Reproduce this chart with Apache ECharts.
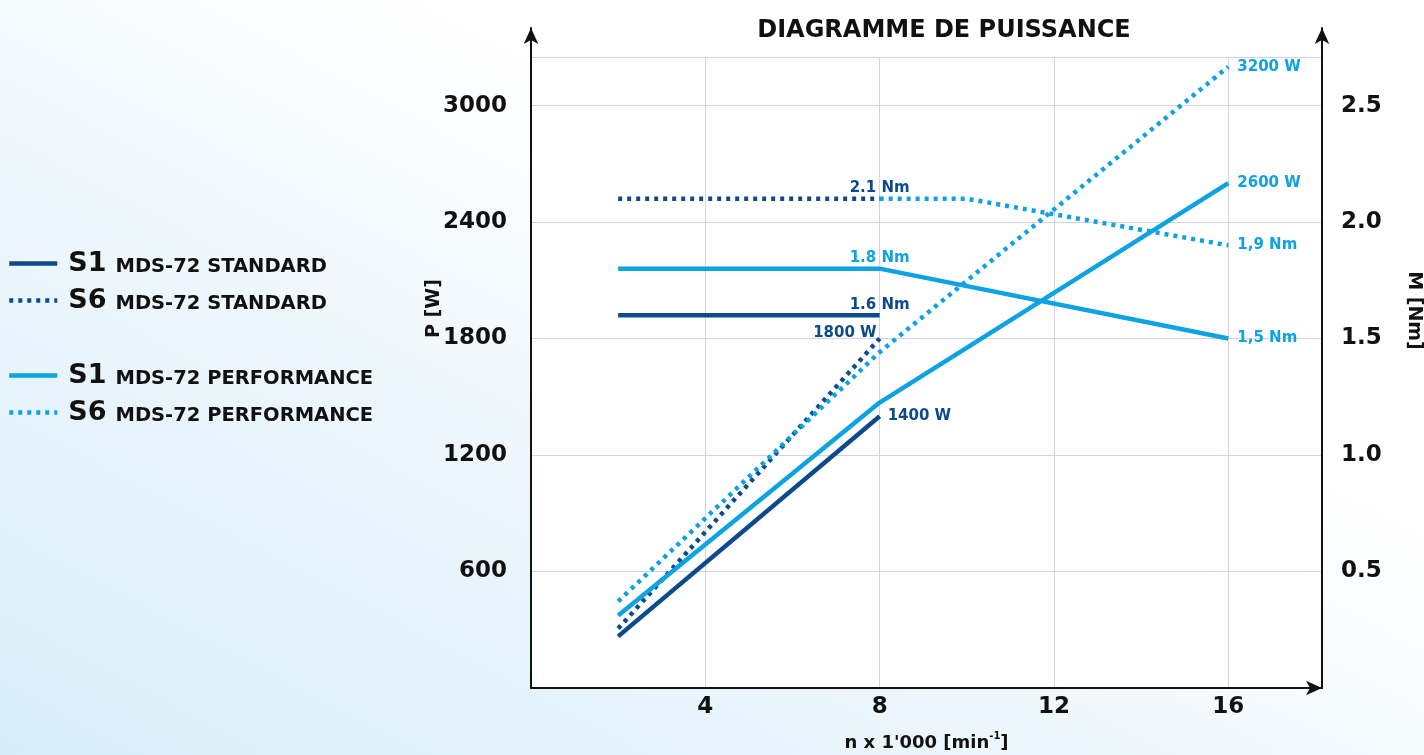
<!DOCTYPE html>
<html>
<head>
<meta charset="utf-8">
<script src="https://cdn.jsdelivr.net/npm/echarts@6/dist/echarts.min.js"></script>
<style>
  html, body { margin: 0; padding: 0; width: 1424px; height: 755px; overflow: hidden;
    background: linear-gradient(to top right, #d8edf9 0%, #ecf6fc 35%, #ffffff 65%); }
  #chart { width: 1424px; height: 755px; }
</style>
</head>
<body>
<div id="chart"></div>
<script>
// ---------- data ----------
const SPEED_TICKS = [4, 8, 12, 16];          // n x 1'000 [min-1]
const POWER_TICKS = [600, 1200, 1800, 2400, 3000];
const TORQUE_TICKS = [0.5, 1.0, 1.5, 2.0, 2.5];

const S1_STD_SPEED = [2, 8];
const S1_STD_POWER = [266, 1400];
const S1_STD_TORQUE = [1.6, 1.6];

const S6_STD_SPEED = [2, 8];
const S6_STD_POWER = [306, 1800];
const S6_STD_TORQUE = [2.1, 2.1];

const S1_PERF_SPEED = [2, 8, 16];
const S1_PERF_POWER = [374, 1470, 2600];
const S1_PERF_TORQUE = [1.8, 1.8, 1.5];

const S6_PERF_POWER_SPEED = [2, 8, 16];
const S6_PERF_POWER = [446, 1730, 3200];
const S6_PERF_TORQUE_SPEED = [8, 10, 16];
const S6_PERF_TORQUE = [2.1, 2.1, 1.9];

const NAMES = ['S1 MDS-72 STANDARD', 'S6 MDS-72 STANDARD', 'S1 MDS-72 PERFORMANCE', 'S6 MDS-72 PERFORMANCE'];
const END_LABELS = {
  s1StdP: '1400 W', s6StdP: '1800 W', s1StdT: '1.6 Nm', s6StdT: '2.1 Nm',
  s1PerfP: '2600 W', s6PerfP: '3200 W', s1PerfT: '1,5 Nm', s1PerfMidT: '1.8 Nm', s6PerfT: '1,9 Nm'
};

// ---------- styles ----------
const DARK = '#0c4a8c';
const LIGHT = '#0da2e2';
const FONT = 'DejaVu Sans';
const DOT = [4, 5];

function pts(xs, ys, labels) {
  return xs.map((x, i) => {
    const d = { value: [x, ys[i]] };
    if (labels && labels[i]) d.label = Object.assign({ show: true }, labels[i]);
    return d;
  });
}
function lbl(text, color, position, extra) {
  return Object.assign({
    formatter: text, color: color, position: position, distance: 6,
    fontFamily: FONT, fontWeight: 'bold', fontSize: 15
  }, extra || {});
}
function line(name, yIdx, data, color, dotted, z) {
  return {
    type: 'line', name: name, xAxisIndex: 0, yAxisIndex: yIdx, data: data,
    symbol: 'circle', symbolSize: 0, showSymbol: true, showAllSymbol: true,
    silent: true, animation: false, z: z || 2,
    label: { show: false },
    lineStyle: { color: color, width: 4.5, type: dotted ? DOT : 'solid', cap: 'butt' },
    itemStyle: { color: color }
  };
}

const series = [
  line(NAMES[0], 0, pts(S1_STD_SPEED, S1_STD_POWER, [null, lbl(END_LABELS.s1StdP, DARK, 'right', { distance: 8 })]), DARK, false),
  line(NAMES[0], 1, pts(S1_STD_SPEED, S1_STD_TORQUE, [null, lbl(END_LABELS.s1StdT, DARK, 'top', { distance: 3 })]), DARK, false),
  line(NAMES[1], 0, pts(S6_STD_SPEED, S6_STD_POWER, [null, lbl(END_LABELS.s6StdP, DARK, 'left', { distance: 3, offset: [0, -5] })]), DARK, true),
  line(NAMES[1], 1, pts(S6_STD_SPEED, S6_STD_TORQUE, [null, lbl(END_LABELS.s6StdT, DARK, 'top', { distance: 3 })]), DARK, true),
  line(NAMES[2], 0, pts(S1_PERF_SPEED, S1_PERF_POWER, [null, null, lbl(END_LABELS.s1PerfP, LIGHT, 'right', { distance: 9 })]), LIGHT, false, 3),
  line(NAMES[2], 1, pts(S1_PERF_SPEED, S1_PERF_TORQUE, [null, lbl(END_LABELS.s1PerfMidT, LIGHT, 'top', { distance: 3 }), lbl(END_LABELS.s1PerfT, LIGHT, 'right', { distance: 9 })]), LIGHT, false, 3),
  line(NAMES[3], 0, pts(S6_PERF_POWER_SPEED, S6_PERF_POWER, [null, null, lbl(END_LABELS.s6PerfP, LIGHT, 'right', { distance: 9 })]), LIGHT, true, 3),
  line(NAMES[3], 1, pts(S6_PERF_TORQUE_SPEED, S6_PERF_TORQUE, [null, null, lbl(END_LABELS.s6PerfT, LIGHT, 'right', { distance: 9 })]), LIGHT, true, 3)
];

const X_MAX = 18.15;
const P_MAX = 3250;
const T_MAX = P_MAX / 1200;

const tickFont = { fontFamily: FONT, fontWeight: 'bold', fontSize: 23, color: '#111' };
const gridCommon = { left: 531, right: 102, bottom: 67, outerBoundsMode: 'none', containLabel: false };
const arrowLine = { show: true, symbol: ['none', 'arrow'], symbolSize: [11, 16], lineStyle: { color: '#111', width: 2 } };

function legendFmt(name) {
  const parts = name.split(' ');
  return '{a|' + parts[0] + '}{b|' + parts.slice(1).join(' ') + '}';
}
const legendRich = {
  a: { fontFamily: FONT, fontWeight: 'bold', fontSize: 27, color: '#111', lineHeight: 27, padding: [0, 9, 0, 6], verticalAlign: 'bottom' },
  b: { fontFamily: FONT, fontWeight: 'bold', fontSize: 19.5, color: '#111', lineHeight: 21, verticalAlign: 'bottom' }
};
function legend(data, top) {
  return {
    data: data, orient: 'vertical', left: 7, top: top, padding: 0, itemWidth: 48, itemHeight: 14, itemGap: 10,
    selectedMode: false, formatter: legendFmt, textStyle: { rich: legendRich },
    itemStyle: { opacity: 0 }, lineStyle: { width: 4.5 }
  };
}

const option = {
  animation: false,
  title: {
    text: 'DIAGRAMME DE PUISSANCE', left: 939, top: 14, textAlign: 'center',
    textStyle: { fontFamily: FONT, fontWeight: 'bold', fontSize: 24, color: '#111' }
  },
  legend: [legend([NAMES[0], NAMES[1]], 250), legend([NAMES[2], NAMES[3]], 362)],
  grid: [
    Object.assign({ top: 57, show: true, backgroundColor: '#ffffff', borderWidth: 0 }, gridCommon),
    Object.assign({ top: 28 }, gridCommon)
  ],
  xAxis: [
    {
      type: 'value', gridIndex: 0, min: 0, max: X_MAX, interval: 4,
      axisLine: Object.assign({}, arrowLine, { symbolOffset: [0, 0] }),
      axisTick: { show: false },
      splitLine: { show: true, showMaxLine: false, lineStyle: { color: '#d3d3e8', width: 1 } },
      axisLabel: Object.assign({ margin: 8, formatter: v => SPEED_TICKS.includes(v) ? String(v) : '' }, tickFont),
      name: "n x 1'000 [min{s|-1}]", nameLocation: 'middle', nameGap: 43, nameMoveOverlap: false,
      nameTextStyle: { fontFamily: FONT, fontWeight: 'bold', fontSize: 18, color: '#111',
        rich: { s: { fontFamily: FONT, fontWeight: 'bold', fontSize: 10, color: '#111', verticalAlign: 'top', lineHeight: 24 } } }
    },
    { type: 'value', gridIndex: 1, min: 0, max: X_MAX, show: false }
  ],
  yAxis: [
    {
      type: 'value', gridIndex: 0, position: 'left', min: 0, max: P_MAX, interval: 600,
      axisLine: { show: false }, axisTick: { show: false },
      splitLine: { show: true, lineStyle: { color: '#d3d3e8', width: 1 } },
      axisLabel: Object.assign({ margin: 24, formatter: v => POWER_TICKS.includes(v) ? String(v) : '' }, tickFont),
      name: 'P [W]', nameLocation: 'middle', nameRotate: 90, nameGap: 87, nameMoveOverlap: false,
      nameTextStyle: { fontFamily: FONT, fontWeight: 'bold', fontSize: 19, color: '#111', padding: [0, 0, 0, 128] }
    },
    {
      type: 'value', gridIndex: 0, position: 'right', min: 0, max: T_MAX, interval: 0.5,
      axisLine: { show: false }, axisTick: { show: false }, splitLine: { show: false },
      axisLabel: Object.assign({ margin: 19, formatter: v => TORQUE_TICKS.some(t => Math.abs(t - v) < 1e-9) ? v.toFixed(1) : '' }, tickFont),
      name: 'M [Nm]', nameLocation: 'middle', nameRotate: -90, nameGap: 82, nameMoveOverlap: false,
      nameTextStyle: { fontFamily: FONT, fontWeight: 'bold', fontSize: 19, color: '#111', padding: [0, 124, 0, 0] }
    },
    {
      type: 'value', gridIndex: 1, position: 'left', min: 0, max: 1,
      axisLine: arrowLine, axisTick: { show: false }, axisLabel: { show: false }, splitLine: { show: false }
    },
    {
      type: 'value', gridIndex: 1, position: 'right', min: 0, max: 1,
      axisLine: arrowLine, axisTick: { show: false }, axisLabel: { show: false }, splitLine: { show: false }
    }
  ],
  series: series
};

const chart = echarts.init(document.getElementById('chart'), null, { renderer: 'canvas' });
chart.setOption(option);
</script>
</body>
</html>
